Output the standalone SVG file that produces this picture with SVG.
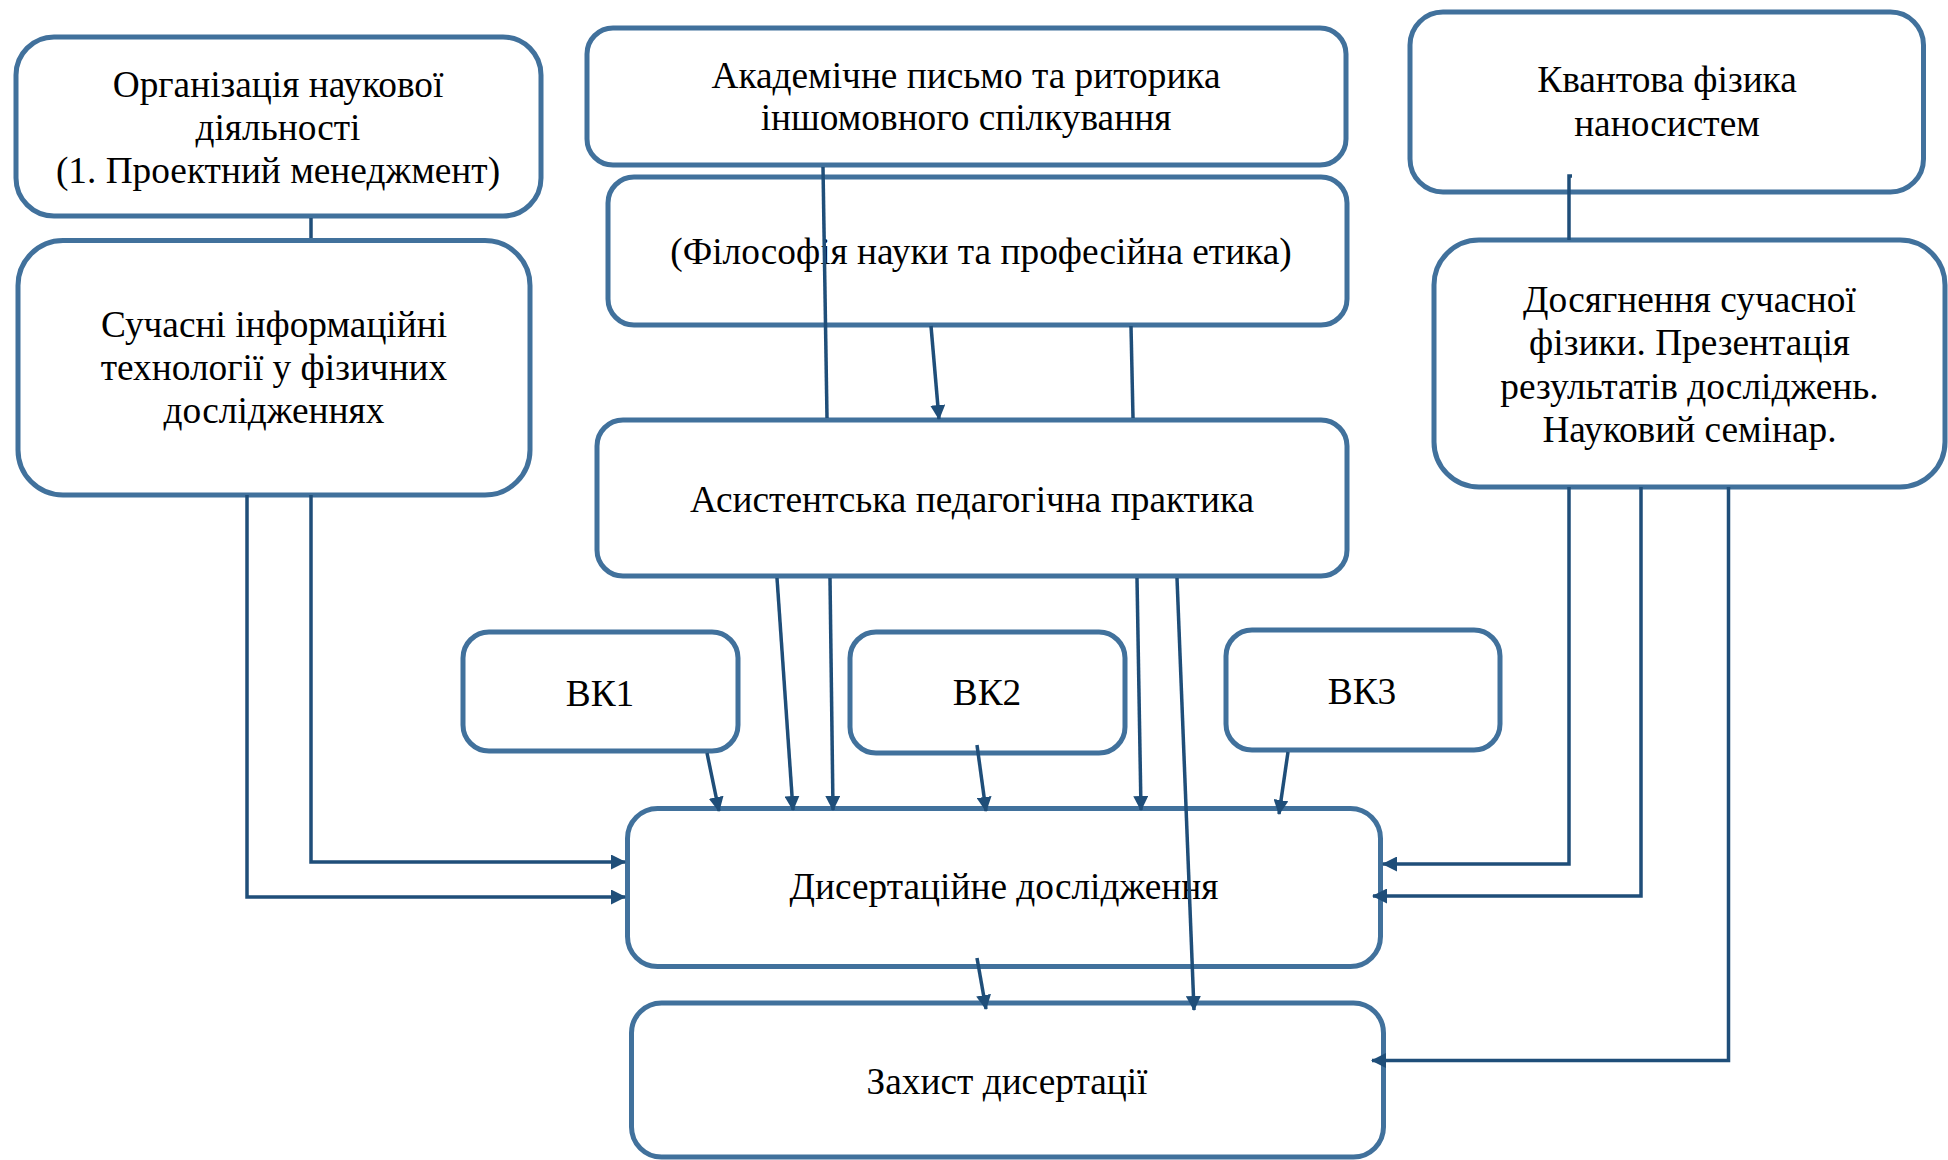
<svg xmlns="http://www.w3.org/2000/svg" width="1948" height="1160" viewBox="0 0 1948 1160">
<style>
.box{fill:#ffffff;stroke:#41719C;stroke-width:5}
.t{font-family:"Liberation Serif","Times New Roman",serif;font-size:37.33px;fill:#000000;text-anchor:middle}
.c{fill:none;stroke:#1F4E79;stroke-width:3.5}
.ca{fill:none;stroke:#1F4E79;stroke-width:3.5;marker-end:url(#ah)}
</style>
<defs>
<marker id="ah" viewBox="0 0 15 15" refX="14" refY="7.5" markerWidth="15" markerHeight="15" markerUnits="userSpaceOnUse" orient="auto">
<path d="M0,0 L15,7.5 L0,15 z" fill="#1F4E79"/>
</marker>
</defs>
<rect width="1948" height="1160" fill="#ffffff"/>
<g id="nodes">
<g id="org">
<rect class="box" x="16" y="37" width="525" height="179" rx="38"/>
<text class="t" x="278" y="97">Організація наукової</text>
<text class="t" x="278" y="139.5">діяльності</text>
<text class="t" x="278" y="182.5">(1. Проектний менеджмент)</text>
</g>
<g id="it">
<rect class="box" x="18" y="240.5" width="512" height="254.5" rx="45"/>
<text class="t" x="274" y="337">Сучасні інформаційні</text>
<text class="t" x="274" y="380">технології у фізичних</text>
<text class="t" x="274" y="423">дослідженнях</text>
</g>
<g id="academic">
<rect class="box" x="587" y="28" width="759" height="137" rx="26"/>
<text class="t" x="966" y="88">Академічне письмо та риторика</text>
<text class="t" x="966" y="130">іншомовного спілкування</text>
</g>
<g id="philosophy">
<rect class="box" x="608" y="177" width="739" height="148" rx="26"/>
<text class="t" x="981" y="264">(Філософія науки та професійна етика)</text>
</g>
<g id="practice">
<rect class="box" x="597" y="420" width="750" height="156" rx="26"/>
<text class="t" x="972" y="512">Асистентська педагогічна практика</text>
</g>
<g id="quantum">
<rect class="box" x="1410" y="12" width="513.5" height="180" rx="33"/>
<text class="t" x="1667" y="92">Квантова фізика</text>
<text class="t" x="1667" y="136">наносистем</text>
</g>
<g id="achievements">
<rect class="box" x="1434" y="240" width="511" height="247" rx="45"/>
<text class="t" x="1689.5" y="312">Досягнення сучасної</text>
<text class="t" x="1689.5" y="355">фізики. Презентація</text>
<text class="t" x="1689.5" y="398.5">результатів досліджень.</text>
<text class="t" x="1689.5" y="441.5">Науковий семінар.</text>
</g>
<g id="vk1">
<rect class="box" x="463" y="632" width="275" height="119" rx="26"/>
<text class="t" x="600" y="706">ВК1</text>
</g>
<g id="vk2">
<rect class="box" x="850" y="632" width="275" height="121" rx="26"/>
<text class="t" x="987" y="705">ВК2</text>
</g>
<g id="vk3">
<rect class="box" x="1226" y="630" width="274" height="120" rx="26"/>
<text class="t" x="1362" y="703.5">ВК3</text>
</g>
<g id="dissertation">
<rect class="box" x="627.5" y="808.5" width="753" height="158" rx="30"/>
<text class="t" x="1004" y="899">Дисертаційне дослідження</text>
</g>
<g id="defense">
<rect class="box" x="631.5" y="1003" width="752" height="154" rx="30"/>
<text class="t" x="1007" y="1094">Захист дисертації</text>
</g>
</g>
<g id="connectors">
<line class="c" x1="311" y1="218" x2="311" y2="238"/>
<polyline class="ca" points="247,495 247,897 625,897"/>
<polyline class="ca" points="311,495 311,862 625,862"/>
<line class="c" x1="823" y1="167" x2="827" y2="418"/>
<line class="ca" x1="931" y1="326" x2="939" y2="419"/>
<line class="c" x1="1131" y1="326" x2="1133" y2="418"/>
<line class="ca" x1="777" y1="578" x2="793" y2="810"/>
<line class="ca" x1="830" y1="578" x2="833" y2="810"/>
<line class="ca" x1="1137" y1="578" x2="1141" y2="810"/>
<line class="ca" x1="1177" y1="578" x2="1194" y2="1010"/>
<line class="ca" x1="707" y1="753" x2="719" y2="811"/>
<line class="ca" x1="977" y1="745" x2="986" y2="811"/>
<line class="ca" x1="1288" y1="752" x2="1279" y2="814"/>
<line class="ca" x1="977" y1="958" x2="986" y2="1009"/>
<polyline class="c" points="1572,176 1569,176 1569,240"/>
<polyline class="ca" points="1569,487 1569,864 1383,864"/>
<polyline class="ca" points="1641,487 1641,896 1373,896"/>
<polyline class="ca" points="1728.5,487 1728.5,1060.5 1372,1060.5"/>
</g>
</svg>
